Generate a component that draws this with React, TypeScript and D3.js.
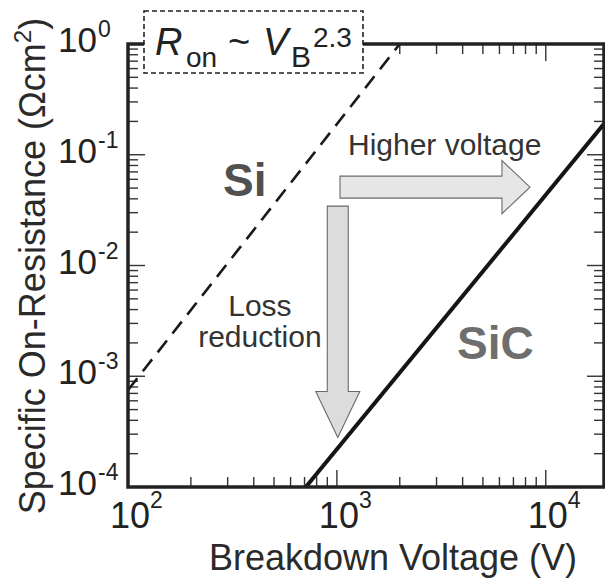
import React from "react";
import * as d3 from "d3";

// ---- data ----
const xDomain = [100, 19000];
const yDomain = [1e-4, 1];
const xMajorExps = [2, 3, 4];
const yMajorExps = [0, -1, -2, -3, -4];
const siV = [100, 2000];
const siR = [7.5e-4, 1];
const sicV = [710, 19000];
const sicR = [1e-4, 0.19];
// annotation anchors (data coordinates)
const hArrowV = [1035, 8400];
const hArrowR = 0.051;
const vArrowV = 1010;
const vArrowR = [0.0344, 2.8e-4];
const labelSi = { v: 285, r: 0.0424, text: "Si" };
const labelSiC = { v: 3760, r: 1.43e-3, text: "SiC" };
const labelHigher = { v: 1130, r: 0.0995, text: "Higher voltage" };
const labelLoss = { v: 428, r: [3.5e-3, 1.82e-3], text: ["Loss", "reduction"] };

const W = 605;
const H = 581;
const L = 128, R = 604, T = 44, B = 487;
const FONT = "'Liberation Sans', Arial, Helvetica, sans-serif";

export default function App() {
  const x = d3.scaleLog().domain(xDomain).range([L, R]);
  const y = d3.scaleLog().domain(yDomain).range([B, T]);

  const xTicks: { v: number; major: boolean }[] = [];
  for (let e = 2; e <= 4; e++)
    for (let m = 1; m <= 9; m++) {
      const v = m * Math.pow(10, e);
      if (v >= xDomain[0] && v <= xDomain[1]) xTicks.push({ v, major: m === 1 });
    }
  const yTicks: { v: number; major: boolean }[] = [];
  for (let e = -4; e <= 0; e++)
    for (let m = 1; m <= 9; m++) {
      const v = m * Math.pow(10, e);
      if (v >= yDomain[0] && v <= yDomain[1] + 1e-12) yTicks.push({ v, major: m === 1 });
    }

  const line = d3
    .line<[number, number]>()
    .x((d) => x(d[0]))
    .y((d) => y(d[1]));
  const siPts = siV.map((v, i) => [v, siR[i]] as [number, number]);
  const sicPts = sicV.map((v, i) => [v, sicR[i]] as [number, number]);

  // horizontal arrow
  const hx0 = x(hArrowV[0]), hx1 = x(hArrowV[1]), hy = y(hArrowR);
  const hsh = 11, hhh = 26.5, hhl = 28;
  const hArrow = [
    [hx0, hy - hsh], [hx1 - hhl, hy - hsh], [hx1 - hhl, hy - hhh], [hx1, hy],
    [hx1 - hhl, hy + hhh], [hx1 - hhl, hy + hsh], [hx0, hy + hsh],
  ];
  // vertical arrow
  const vx = x(vArrowV), vy0 = y(vArrowR[0]), vy1 = y(vArrowR[1]);
  const vsw = 10.5, vhw = 22, vhl = 46;
  const vArrow = [
    [vx - vsw, vy0], [vx + vsw, vy0], [vx + vsw, vy1 - vhl], [vx + vhw, vy1 - vhl],
    [vx, vy1], [vx - vhw, vy1 - vhl], [vx - vsw, vy1 - vhl],
  ];
  const poly = (p: number[][]) => p.map((q) => q.join(",")).join(" ");

  const tickColor = "#333";
  const MAJ = 17, MIN = 10;

  return (
    <svg width={W} height={H} style={{ position: "absolute", left: 0, top: 0, background: "#fff" }} fontFamily={FONT}>
      <defs>
        <clipPath id="plot">
          <rect x={L} y={T} width={R - L} height={B - T} />
        </clipPath>
      </defs>
      <rect x={0} y={0} width={W} height={H} fill="#fff" />

      {/* ticks */}
      <g stroke={tickColor} strokeWidth={1.4}>
        {xTicks.map((t, i) => {
          const len = t.major ? MAJ : MIN;
          const xx = x(t.v);
          return (
            <g key={"xt" + i}>
              <line x1={xx} x2={xx} y1={B} y2={B - len} />
              <line x1={xx} x2={xx} y1={T} y2={T + len} />
            </g>
          );
        })}
        {yTicks.map((t, i) => {
          const len = t.major ? MAJ : MIN;
          const yy = y(t.v);
          return (
            <g key={"yt" + i}>
              <line x1={L} x2={L + len} y1={yy} y2={yy} />
              <line x1={R} x2={R - len} y1={yy} y2={yy} />
            </g>
          );
        })}
      </g>

      {/* arrows */}
      <polygon points={poly(hArrow)} fill="#e6e6e6" stroke="#6a6a6a" strokeWidth={1.1} />
      <polygon points={poly(vArrow)} fill="#dcdcdc" stroke="#6a6a6a" strokeWidth={1.1} />

      {/* lines */}
      <g clipPath="url(#plot)">
        <path d={line(siPts) || ""} fill="none" stroke="#1a1a1a" strokeWidth={2.6} strokeDasharray="15,9" />
        <path d={line(sicPts) || ""} fill="none" stroke="#151515" strokeWidth={4} />
      </g>

      {/* frame */}
      <rect x={L} y={T} width={R - L} height={B - T} fill="none" stroke="#222" strokeWidth={3.5} />

      {/* formula box */}
      <rect x={144} y={11} width={219} height={62} fill="#fff" stroke="#222" strokeWidth={1.6} strokeDasharray="5,3" />
      <text fill="#222" fontSize={38}>
        <tspan x={155} y={55} fontStyle="italic">R</tspan>
        <tspan x={186} y={67} fontSize={28}>on</tspan>
        <tspan x={228} y={55}>~</tspan>
        <tspan x={263} y={55} fontStyle="italic">V</tspan>
        <tspan x={291} y={67} fontSize={30}>B</tspan>
        <tspan x={313} y={47} fontSize={28}>2.3</tspan>
      </text>

      {/* x tick labels */}
      {xMajorExps.map((e) => {
        const xx = x(Math.pow(10, e));
        return (
          <text key={"xl" + e} fill="#222">
            <tspan x={xx + 2} y={528} fontSize={36} textAnchor="middle">10</tspan>
            <tspan x={xx + 22} y={508} fontSize={23}>{e}</tspan>
          </text>
        );
      })}
      {/* y tick labels */}
      {yMajorExps.map((e) => {
        const yy = y(Math.pow(10, e));
        return (
          <g key={"yl" + e} fill="#222">
            <text x={97} y={yy + 8} fontSize={35} textAnchor="end">10</text>
            <text x={98} y={yy - 7} fontSize={23}>{e === 0 ? "0" : "-" + Math.abs(e)}</text>
          </g>
        );
      })}

      {/* axis titles */}
      <text x={393} y={570} fontSize={36} textAnchor="middle" fill="#2a2a2a">Breakdown Voltage (V)</text>
      <text transform="translate(45,266) rotate(-90)" fontSize={36} textAnchor="middle" fill="#2a2a2a">
        Specific On-Resistance (Ωcm<tspan fontSize={24} dy={-14}>2</tspan><tspan dy={14}>)</tspan>
      </text>

      {/* annotations */}
      <text x={x(labelSi.v)} y={y(labelSi.r)} fontSize={46} fontWeight="bold" fill="#505050">{labelSi.text}</text>
      <text x={x(labelSiC.v)} y={y(labelSiC.r)} fontSize={46} fontWeight="bold" fill="#6e6e6e">{labelSiC.text}</text>
      <text x={x(labelHigher.v)} y={y(labelHigher.r)} fontSize={30} fill="#333">{labelHigher.text}</text>
      {labelLoss.text.map((t, i) => (
        <text key={t} x={x(labelLoss.v)} y={y(labelLoss.r[i])} fontSize={30} textAnchor="middle" fill="#333">{t}</text>
      ))}
    </svg>
  );
}
